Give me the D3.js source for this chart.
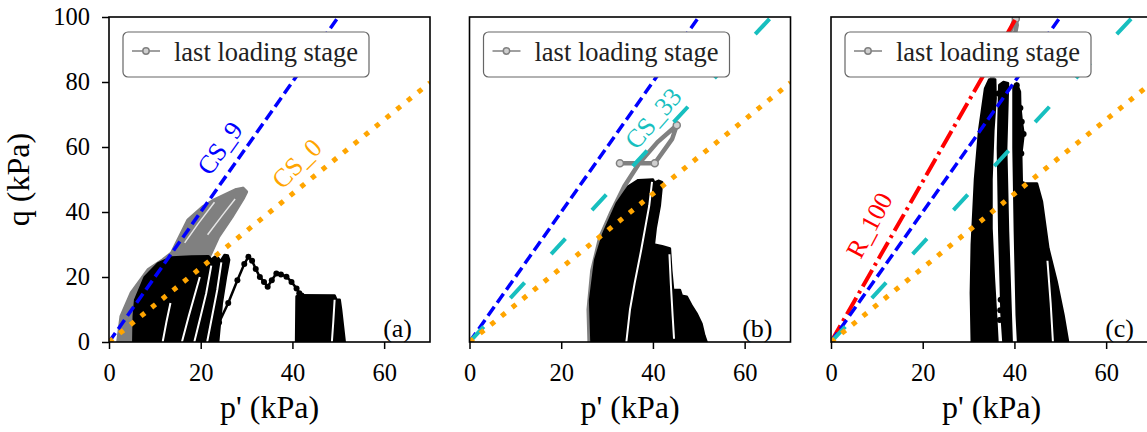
<!DOCTYPE html>
<html>
<head>
<meta charset="utf-8">
<script src="https://cdn.jsdelivr.net/npm/d3@7"></script>
<style>
  body { margin: 0; background: #fff; }
  svg { display: block; font-family: "Liberation Serif", "Times New Roman", serif; }
</style>
</head>
<body>
<svg id="chart" width="1147" height="432"></svg>
<script>
// axis ticks
const xTicks = [0, 20, 40, 60];
const yTicks = [0, 20, 40, 60, 80, 100];

// reference lines (p', q) end points
const cs9Line = [[0, 0], [50, 100]];
const cs0Line = [[0, 0], [70, 79.8]];
const cs33Line = [[0, 0], [65.8, 100]];
const r100Line = [[0, 0], [40.5, 100]];

// panel (a) stress paths
const aGray = [[2, 0], [2.7, 7.8], [4.9, 15], [8.6, 22.2], [11.8, 25.2], [13.7, 27.3], [17.3, 37.5], [20.5, 41.5],
  [23.1, 43.7], [25.5, 45.3], [27.8, 46.8], [29.2, 47.2], [29.9, 46.2], [29.3, 44.5], [26.7, 38.5], [23.8, 32.4],
  [22.3, 27.8], [21, 24], [8, 0]];
const aGrayGaps = [[[16.5, 30.5], [19.5, 36.5], [23, 43]], [[21.5, 33], [25, 39.5], [27.5, 44]]];
const aBlack = [[5.3, 0], [5.4, 8], [5.7, 12.9], [7.8, 20], [10.7, 24.2], [13.6, 26], [18, 26.3], [21.7, 26.4],
  [22.3, 25.3], [23.1, 26.2], [23.8, 25.9], [24.3, 24.8], [25.2, 26.8], [25.9, 26.6], [26.2, 25.3], [25.5, 20],
  [24.6, 12], [23.8, 0]];
const aBlackGaps = [
  [[11.7, 0], [12.5, 6], [13.4, 12]],
  [[15.9, 0], [17.4, 8], [18.6, 14], [19.8, 20]],
  [[18.6, 0], [20, 8], [21.2, 15], [22.3, 23.5]],
  [[21.4, 0], [22.5, 8], [23.6, 16], [24.5, 24.5]]
];
const aZigzag = [[22.4, 0], [24, 6], [26, 12], [28, 19], [29.5, 24], [30.4, 26.2], [31.2, 25], [32, 22.5],
  [32.9, 20], [33.8, 18.5], [34.6, 17], [35.5, 19], [36.5, 21.1], [37.5, 20.8], [38.7, 20.1], [39.8, 18.5],
  [40.9, 16.5], [41.5, 15], [42, 14.3]];
const aBlock = [[40.8, 0], [40.9, 14], [41.5, 14.4], [49.2, 14.3], [49.6, 13], [50.3, 13], [50.6, 10],
  [51, 5], [51.4, 0]];
const aBlockGaps = [[[49.2, 13], [48.9, 6], [48.6, 0]]];

// panel (b) stress paths
const bGray = [[26.2, 0], [26, 10], [26.8, 22], [28.5, 32], [31, 40], [33.8, 48], [37, 55], [41, 61.5],
  [45.2, 66.7], [44.2, 62.5], [40.4, 55], [32.8, 55]];
const bGrayMarks = [[45.2, 66.7], [40.4, 55], [32.8, 55]];
const bBlack = [[26.6, 0], [26.3, 12.9], [27.4, 25.2], [29.2, 33.4], [32.1, 42.6], [34.6, 47.8], [36.8, 49.8],
  [40, 50], [40.3, 49], [41.2, 49.6], [42, 49.2], [41.5, 42], [40.6, 35], [40.2, 30], [42, 29.5], [43.7, 28.8],
  [44, 22], [44.4, 16], [45.9, 16], [46.3, 14.2], [47.4, 13.9], [48.5, 11], [49.5, 8.8], [50.6, 5.6],
  [51.2, 2], [51.7, 0]];
const bBlackGaps = [
  [[39.8, 49.3], [39.2, 42], [38.3, 35], [37.4, 28], [36, 18], [35, 10], [34.2, 0]],
  [[43.6, 27], [43.9, 18], [44.3, 8], [44.6, 1]]
];

// panel (c) stress paths
const cGray = [[34.8, 80], [36.5, 86], [38.5, 93], [39.8, 98.5], [40.3, 99.5], [40.5, 97.5], [40, 94]];
const cGrayMarks = [[40.3, 99.5], [40, 94]];
const cBand1 = [[30.7, 0], [30.5, 15], [30.7, 30], [31.4, 50], [32.3, 65], [33.6, 78], [34.5, 80.8],
  [35.8, 80.8], [35.9, 75], [35.4, 65], [35, 50], [35, 35], [35.5, 20], [36, 8], [36.3, 0]];
const cBand2 = [[37.6, 0], [37.2, 8.3], [36.7, 33.9], [36.4, 59.6], [36.7, 79.1], [37.6, 80], [38.6, 79.6],
  [38.2, 59.6], [38.6, 33.9], [39.2, 8.3], [39.4, 0]];
const cBand3 = [[40.8, 0], [40.5, 8.3], [40.1, 33.9], [39.8, 59.6], [39.8, 78.6], [40.5, 79.5], [41.2, 77],
  [41.6, 49.3], [42.3, 48.8], [44.9, 48.8], [46, 43.2], [47.4, 28.8], [49.2, 18.6], [50.7, 8.3], [51.7, 0]];
const cBlockGaps = [[[47.2, 25], [47.9, 12], [48.4, 0]]];
const cMarks = [[40.5, 79], [41.3, 72], [41.6, 67.8], [42, 64], [41.5, 58], [40.8, 53.4]];
const cMarks2 = [[36.5, 76.5], [36.9, 9.8], [36.8, 6.8], [37, 13]];

// line labels [text, p', q, angle, colour]
const aLabels = [["CS_9", 24.1, 59.7, -54, "#0000ff"], ["CS_0", 40.9, 55, -45, "orange"]];
const bLabels = [["CS_33", 40, 68.9, -49, "#17bfbf"]];
const cLabels = [["R_100", 8.3, 36, -62, "#ff0000"]];

const panelLetters = ["(a)", "(b)", "(c)"];
const legendText = "last loading stage";

const lineStyles = {
  cs9: { color: "#0000ff", width: 3.5, dash: "11,5" },
  cs0: { color: "orange", width: 5, dash: "5,8.7" },
  cs33: { color: "#17bfbf", width: 4, dash: "21,39" },
  r100: { color: "#ff0000", width: 4, dash: "19,5,3,5" }
};

const panels = [
  {
    left: 109, lines: [["cs9", cs9Line], ["cs0", cs0Line]], labels: aLabels,
    gray: [aGray], grayGaps: aGrayGaps, black: [aBlack, aBlock], gaps: aBlackGaps.concat(aBlockGaps),
    paths: [aZigzag], marks: []
  },
  {
    left: 469.5, lines: [["cs9", cs9Line], ["cs33", cs33Line], ["cs0", cs0Line]], labels: bLabels,
    gray: [], grayGaps: [], black: [bBlack], gaps: bBlackGaps, grayPath: bGray, grayMarks: bGrayMarks,
    paths: [], marks: []
  },
  {
    left: 831, lines: [["r100", r100Line], ["cs9", cs9Line], ["cs33", cs33Line], ["cs0", cs0Line]], labels: cLabels,
    gray: [], grayGaps: [], black: [cBand1, cBand2, cBand3], gaps: cBlockGaps, grayPath: cGray,
    grayMarks: cGrayMarks, paths: [cMarks], marks: cMarks2
  }
];

const panelTop = 17, width = 321, height = 325;
const svg = d3.select("#chart");

const x = d3.scaleLinear().domain([0, 70]).range([0, width]);
const y = d3.scaleLinear().domain([0, 100]).range([height, 0]);
const line = d3.line().x(d => x(d[0])).y(d => y(d[1]));
const area = d3.line().x(d => x(d[0])).y(d => y(d[1])).curve(d3.curveLinearClosed);

panels.forEach((pn, i) => {
  const g = svg.append("g").attr("transform", `translate(${pn.left},${panelTop})`);

  svg.append("defs").append("clipPath").attr("id", "clip" + i)
    .append("rect").attr("width", width).attr("height", height);
  const plot = g.append("g").attr("clip-path", `url(#clip${i})`);

  // last loading stage (gray) under the black paths
  pn.gray.forEach(poly => {
    plot.append("path").attr("d", area(poly))
      .attr("fill", "#808080").attr("stroke", "#808080").attr("stroke-width", 4)
      .attr("stroke-linejoin", "round");
  });
  pn.grayGaps.forEach(gp => {
    plot.append("path").attr("d", line(gp)).attr("fill", "none")
      .attr("stroke", "#e6e6e6").attr("stroke-width", 1.5);
  });
  if (pn.grayPath) {
    plot.append("path").attr("d", line(pn.grayPath)).attr("fill", "none")
      .attr("stroke", "#808080").attr("stroke-width", 4.5).attr("stroke-linejoin", "round");
    plot.selectAll(null).data(pn.grayMarks).enter().append("circle")
      .attr("cx", d => x(d[0])).attr("cy", d => y(d[1])).attr("r", 3.5)
      .attr("fill", "#cfcfcf").attr("stroke", "#808080").attr("stroke-width", 1.5);
  }

  // black stress paths
  pn.black.forEach(poly => {
    plot.append("path").attr("d", area(poly))
      .attr("fill", "#000").attr("stroke", "#000").attr("stroke-width", 2.5)
      .attr("stroke-linejoin", "round");
  });
  pn.gaps.forEach(gp => {
    plot.append("path").attr("d", line(gp)).attr("fill", "none")
      .attr("stroke", "#fff").attr("stroke-width", 2);
  });
  pn.paths.forEach(pt => {
    plot.append("path").attr("d", line(pt)).attr("fill", "none")
      .attr("stroke", "#000").attr("stroke-width", 2.5);
    plot.selectAll(null).data(pt).enter().append("circle")
      .attr("cx", d => x(d[0])).attr("cy", d => y(d[1])).attr("r", 3).attr("fill", "#000");
  });
  plot.selectAll(null).data(pn.marks).enter().append("circle")
    .attr("cx", d => x(d[0])).attr("cy", d => y(d[1])).attr("r", 3).attr("fill", "#000");

  // reference lines
  pn.lines.forEach(([key, pts]) => {
    const st = lineStyles[key];
    plot.append("path").attr("d", line(pts)).attr("fill", "none")
      .attr("stroke", st.color).attr("stroke-width", st.width)
      .attr("stroke-dasharray", st.dash);
  });

  // line labels
  pn.labels.forEach(([txt, p, q, ang, col]) => {
    plot.append("text")
      .attr("transform", `translate(${x(p)},${y(q)}) rotate(${ang})`)
      .attr("text-anchor", "middle").attr("dy", "0.35em")
      .attr("font-size", 26).attr("fill", col).text(txt);
  });

  // axes
  const xAxis = g.append("g").attr("transform", `translate(0,${height})`)
    .call(d3.axisBottom(x).tickValues(xTicks).tickSize(7).tickPadding(15).tickSizeOuter(0));
  xAxis.selectAll("text").attr("font-size", 24.5).attr("font-family", "Liberation Serif").attr("fill", "#000");
  xAxis.selectAll("line").attr("stroke-width", 1.5);
  xAxis.select(".domain").remove();

  if (i === 0) {
    const yAxis = g.append("g")
      .call(d3.axisLeft(y).tickValues(yTicks).tickSize(7).tickPadding(12).tickSizeOuter(0));
    yAxis.selectAll("text").attr("font-size", 24.5).attr("font-family", "Liberation Serif").attr("fill", "#000");
    yAxis.selectAll("line").attr("stroke-width", 1.5);
    yAxis.select(".domain").remove();

    g.append("text")
      .attr("transform", `translate(-80,${height / 2}) rotate(-90)`)
      .attr("text-anchor", "middle").attr("font-size", 32).text("q (kPa)");
  }

  g.append("text").attr("x", width / 2).attr("y", 401)
    .attr("text-anchor", "middle").attr("font-size", 32).text("p' (kPa)");

  // frame
  g.append("rect").attr("width", width).attr("height", height)
    .attr("fill", "none").attr("stroke", "#000").attr("stroke-width", 1.6);

  // panel letter
  g.append("text").attr("x", width - 18).attr("y", height - 5)
    .attr("text-anchor", "end").attr("font-size", 26).text(panelLetters[i]);

  // legend
  const lg = g.append("g").attr("transform", "translate(14,15)");
  lg.append("rect").attr("width", 246).attr("height", 45).attr("rx", 5)
    .attr("fill", "#fff").attr("stroke", "#666").attr("stroke-width", 1.2);
  lg.append("line").attr("x1", 9).attr("x2", 37).attr("y1", 19).attr("y2", 19)
    .attr("stroke", "#808080").attr("stroke-width", 1.5);
  lg.append("circle").attr("cx", 23).attr("cy", 19).attr("r", 3.2)
    .attr("fill", "#cfcfcf").attr("stroke", "#808080").attr("stroke-width", 1.5);
  lg.append("text").attr("x", 51).attr("y", 29).attr("font-size", 26.5).attr("fill", "#222").text(legendText);
});
</script>
</body>
</html>
